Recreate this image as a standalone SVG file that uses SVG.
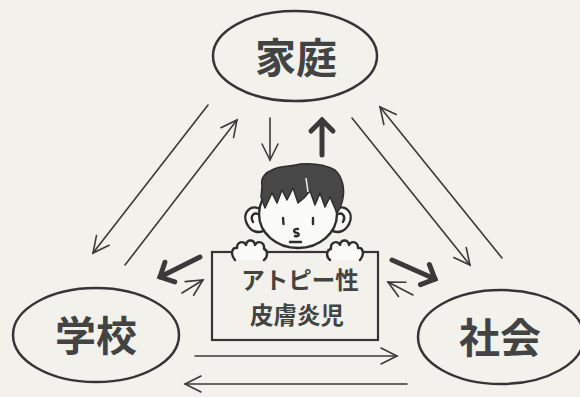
<svg xmlns="http://www.w3.org/2000/svg" width="580" height="397" viewBox="0 0 580 397">
  <style>
    .bg { fill: #f2f1eb; }
    .oval { fill: none; stroke: #353535; stroke-width: 2.5; }
    .label { font-family: "Noto Sans CJK JP", "Noto Sans", sans-serif; font-weight: bold; fill: #434343; text-anchor: middle; dominant-baseline: central; }
    .big { font-size: 41px; }
    .small { font-size: 23.5px; }
    .thin { fill: none; stroke: #3a3a3a; stroke-width: 1.6; stroke-linecap: round; }
    .thick { fill: none; stroke: #3a3a3a; stroke-width: 5; stroke-linecap: round; }
    .ink { fill: #fbfbf8; stroke: #2e2e2e; stroke-width: 2.4; stroke-linejoin: round; stroke-linecap: round; }
    .hair { fill: #474747; stroke: #2e2e2e; stroke-width: 1.5; stroke-linejoin: round; }
    .line { fill: none; stroke: #2e2e2e; stroke-width: 2.4; stroke-linecap: round; }
  </style>
  <defs>
    <marker id="headThin" markerUnits="userSpaceOnUse" viewBox="-20 -12 24 24" refX="0" refY="0" markerWidth="24" markerHeight="24" orient="auto" overflow="visible">
      <path d="M-16,-8 L0,0 L-16,8" fill="none" stroke="#3a3a3a" stroke-width="1.6" stroke-linecap="round" stroke-linejoin="miter"/>
    </marker>
    <marker id="headThick" markerUnits="userSpaceOnUse" viewBox="-20 -16 24 32" refX="0" refY="0" markerWidth="24" markerHeight="32" orient="auto" overflow="visible">
      <path d="M-11,-11 L0,0 L-11,11" fill="none" stroke="#3a3a3a" stroke-width="5" stroke-linecap="round" stroke-linejoin="miter"/>
    </marker>
  </defs>

  <rect class="bg" x="0" y="0" width="580" height="397"/>

  <!-- connectors -->
  <g id="connectors">
    <line class="thin" x1="208" y1="105" x2="93" y2="253" marker-end="url(#headThin)"/>
    <line class="thin" x1="125" y1="265" x2="237" y2="120" marker-end="url(#headThin)"/>
    <line class="thin" x1="352" y1="118" x2="470" y2="265" marker-end="url(#headThin)"/>
    <line class="thin" x1="502" y1="258" x2="380" y2="107" marker-end="url(#headThin)"/>
    <line class="thin" x1="195" y1="356" x2="397" y2="356" marker-end="url(#headThin)"/>
    <line class="thin" x1="407" y1="384" x2="185" y2="384" marker-end="url(#headThin)"/>
    <line class="thin" x1="270" y1="118" x2="270" y2="160" marker-end="url(#headThin)"/>
    <line class="thick" x1="322" y1="155" x2="322" y2="120" marker-end="url(#headThick)"/>
    <line class="thick" x1="200" y1="257" x2="160" y2="277" marker-end="url(#headThick)"/>
    <line class="thin" x1="182" y1="293" x2="203" y2="280" marker-end="url(#headThin)"/>
    <line class="thick" x1="392" y1="260" x2="435" y2="279" marker-end="url(#headThick)"/>
    <line class="thin" x1="413" y1="295" x2="388" y2="282" marker-end="url(#headThin)"/>
  </g>

  <g id="home">
    <ellipse class="oval" cx="295" cy="56" rx="82" ry="45"/>
    <text class="label big" x="296" y="55">家庭</text>
  </g>

  <g id="school">
    <ellipse class="oval" cx="96" cy="335" rx="83" ry="47"/>
    <text class="label big" x="96" y="333">学校</text>
  </g>

  <g id="society">
    <ellipse class="oval" cx="501" cy="337" rx="83" ry="47"/>
    <text class="label big" x="500" y="335">社会</text>
  </g>

  <g id="child">
    <!-- sign board -->
    <rect x="212" y="252" width="166" height="88" fill="none" stroke="#353535" stroke-width="2.2"/>
    <text class="label small" x="300" y="279">アトピー性</text>
    <text class="label small" x="297" y="314">皮膚炎児</text>

    <!-- ears -->
    <path class="ink" d="M263,211 C252,202 241,212 247,224 C251,232 259,234 265,230 Z"/>
    <path class="line" d="M258,214 C253,212 250,217 253,222"/>
    <path class="ink" d="M333,211 C344,202 355,212 349,224 C345,232 337,234 331,230 Z"/>
    <path class="line" d="M338,214 C343,212 346,217 343,222"/>

    <!-- face -->
    <ellipse class="ink" cx="298" cy="214" rx="39" ry="34"/>

    <!-- hair -->
    <path class="hair" d="M262,186 C260,178 266,172 272,170 C280,165 292,167 300,164 C312,163 326,165 335,170 C342,176 345,188 343,198 C342,204 340,209 337,213 L330,197 L325,207 L320,193 L315,205 L310,191 L304,198 L298,203 L293,188 L287,200 L282,190 L277,203 L272,193 L265,208 L261,197 Z"/>
    <path d="M306,178 L308,192" stroke="#f2f1eb" stroke-width="1.5" fill="none"/>

    <!-- eyes, nose, mouth -->
    <line class="line" x1="283" y1="218" x2="283.5" y2="224"/>
    <line class="line" x1="313" y1="218" x2="313" y2="224"/>
    <path class="line" d="M298,229 C293,228 293,233 297,233 C300,234 299,237 295,236" stroke-width="2"/>
    <line class="line" x1="290" y1="242" x2="301" y2="242"/>

    <!-- hands -->
    <path class="ink" d="M235,260 C230,254 232,247 237,248 C237,242 243,240 246,245 C247,239 254,239 255,245 C258,240 265,242 264,249 C268,250 268,257 264,260"/>
    <path class="ink" d="M330,260 C326,257 326,250 331,249 C330,242 337,240 340,245 C341,239 348,239 349,245 C352,240 358,242 358,248 C363,247 365,254 360,260"/>
  </g>
</svg>
